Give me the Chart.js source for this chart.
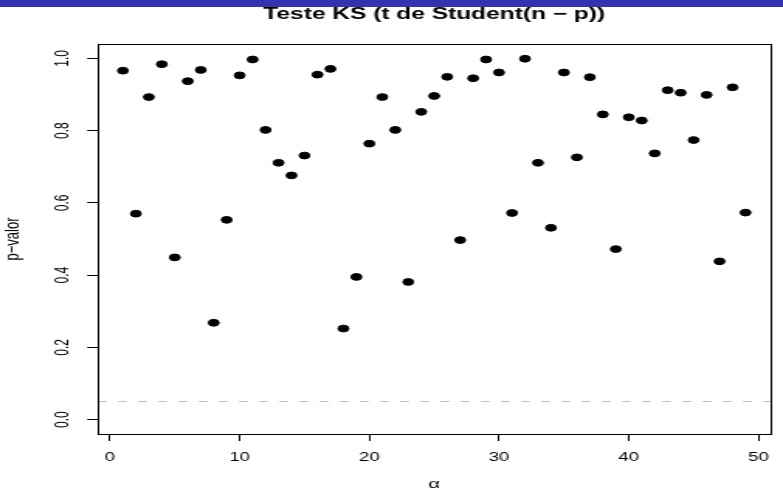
<!DOCTYPE html>
<html>
<head>
<meta charset="utf-8">
<script src="https://cdn.jsdelivr.net/npm/chart.js@4.4.1/dist/chart.umd.min.js"></script>
<style>
  html, body { margin: 0; padding: 0; background: #fff; }
  #wrap { position: relative; width: 783px; height: 494px; overflow: hidden; }
  #topbar { position: absolute; left: 0; top: 0; width: 783px; height: 7px; background: #3333b2; }
</style>
</head>
<body>
<div id="wrap">
  <!-- the reference is an R plot stretched sideways, so the canvas is drawn narrow and scaled up -->
  <canvas id="plot" width="505" height="494" style="display:block;width:783px;height:494px"></canvas>
  <div id="topbar"></div>
</div>
<script>
// alpha (x) values
const alphas = [
  1, 2, 3, 4, 5, 6, 7, 8, 9, 10,
  11, 12, 13, 14, 15, 16, 17, 18, 19, 20,
  21, 22, 23, 24, 25, 26, 27, 28, 29, 30,
  31, 32, 33, 34, 35, 36, 37, 38, 39, 40,
  41, 42, 43, 44, 45, 46, 47, 48, 49
];

// p-valor do teste KS
const pvals = [
  0.966, 0.570, 0.893, 0.984, 0.449, 0.937, 0.968, 0.268, 0.553, 0.953,
  0.997, 0.802, 0.711, 0.676, 0.731, 0.955, 0.971, 0.252, 0.395, 0.764,
  0.893, 0.802, 0.381, 0.852, 0.896, 0.949, 0.497, 0.945, 0.997, 0.961,
  0.572, 0.999, 0.711, 0.531, 0.961, 0.726, 0.948, 0.845, 0.472, 0.837,
  0.828, 0.737, 0.912, 0.905, 0.774, 0.899, 0.438, 0.920, 0.573
];

// nivel de referencia (linha tracejada)
const refLevel = 0.05;

const xTicks = [0, 10, 20, 30, 40, 50];
const yTicks = [0.0, 0.2, 0.4, 0.6, 0.8, 1.0];

// limites como no R (4% de folga)
const xMin = -0.92, xMax = 50.92;
const yMin = -0.04, yMax = 1.04;

const FONT = '"Liberation Sans", Arial, Helvetica, sans-serif';

// moldura em volta da area do grafico (box() do R)
const boxPlugin = {
  id: 'box',
  afterDraw(chart) {
    const a = chart.chartArea;
    const ctx = chart.ctx;
    ctx.save();
    ctx.strokeStyle = '#000';
    ctx.lineWidth = 1;
    ctx.strokeRect(Math.round(a.left) + 0.5, Math.round(a.top) + 0.5,
      Math.round(a.right - a.left), Math.round(a.bottom - a.top));
    ctx.restore();
  }
};

const ctx = document.getElementById('plot').getContext('2d');

new Chart(ctx, {
  data: {
    datasets: [
      {
        type: 'line',
        label: 'ref',
        data: [{ x: xMin, y: refLevel }, { x: xMax, y: refLevel }],
        borderColor: '#bebebe',
        borderWidth: 1.2,
        borderDash: [5.5, 7.5],
        pointRadius: 0,
        fill: false
      },
      {
        type: 'scatter',
        label: 'p-valor',
        data: alphas.map((a, i) => ({ x: a, y: pvals[i] })),
        backgroundColor: '#000',
        borderColor: '#000',
        borderWidth: 1,
        pointRadius: 3.4,
        pointHoverRadius: 3.4
      }
    ]
  },
  options: {
    responsive: false,
    devicePixelRatio: 1,
    animation: false,
    layout: { padding: { left: 0, right: 1, top: 0, bottom: 0 } },
    plugins: {
      legend: { display: false },
      tooltip: { enabled: false },
      title: {
        display: true,
        fullSize: false, // centrado sobre a area do grafico, como no R
        text: 'Teste KS (t de Student(n \u2212 p))',
        color: '#000',
        font: { family: FONT, size: 15.8, weight: 'bold' },
        padding: { top: 5.5, bottom: 19.5 }
      }
    },
    scales: {
      x: {
        type: 'linear',
        min: xMin,
        max: xMax,
        afterFit: (s) => { s.height = 60; },
        afterBuildTicks: (s) => { s.ticks = xTicks.map(v => ({ value: v })); },
        border: { display: false },
        grid: { drawOnChartArea: false, drawTicks: true, tickLength: 7, color: '#000', tickColor: '#000' },
        ticks: {
          color: '#000',
          font: { family: FONT, size: 12 },
          padding: 9,
          maxRotation: 0,
          callback: v => String(v)
        },
        title: {
          display: true,
          text: '\u03b1',
          color: '#000',
          font: { family: FONT, size: 13 },
          padding: { top: 0, bottom: 2 }
        }
      },
      y: {
        type: 'linear',
        min: yMin,
        max: yMax,
        afterFit: (s) => { s.width = 63.2; },
        afterBuildTicks: (s) => { s.ticks = yTicks.map(v => ({ value: v })); },
        border: { display: false },
        grid: { drawOnChartArea: false, drawTicks: true, tickLength: 7, color: '#000', tickColor: '#000' },
        ticks: {
          color: '#000',
          font: { family: FONT, size: 12 },
          padding: 7,
          minRotation: 90,
          maxRotation: 90,
          crossAlign: 'center',
          callback: v => Number(v).toFixed(1)
        },
        title: {
          display: true,
          text: 'p\u2212valor',
          color: '#000',
          font: { family: FONT, size: 13 },
          padding: { top: 0.5, bottom: 0 }
        }
      }
    }
  },
  plugins: [boxPlugin]
});
</script>
</body>
</html>
